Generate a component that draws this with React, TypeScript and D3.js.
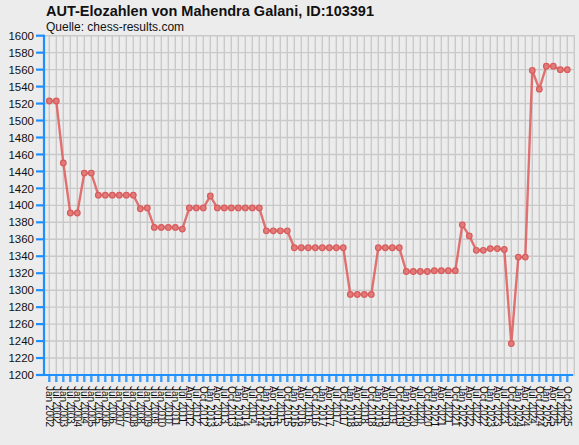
import React from "react";
import * as d3 from "d3";

const periods: string[] = [
  "Jan 2002", "Jul 2002", "Jan 2003", "Jul 2003", "Jan 2004", "Jul 2004", "Jan 2005", "Jul 2005",
  "Jan 2006", "Jul 2006", "Jan 2007", "Jul 2007", "Jan 2008", "Jul 2008", "Jan 2009", "Jul 2009",
  "Jan 2010", "Jul 2010", "Jan 2011", "Jul 2011",
  "Apr 2012", "Jul 2012", "Oct 2012",
  "Jan 2013", "Apr 2013", "Jul 2013", "Oct 2013",
  "Jan 2014", "Apr 2014", "Jul 2014", "Oct 2014",
  "Jan 2015", "Apr 2015", "Jul 2015", "Oct 2015",
  "Jan 2016", "Apr 2016", "Jul 2016", "Oct 2016",
  "Jan 2017", "Apr 2017", "Jul 2017", "Oct 2017",
  "Jan 2018", "Apr 2018", "Jul 2018", "Oct 2018",
  "Jan 2019", "Apr 2019", "Jul 2019", "Oct 2019",
  "Jan 2020", "Apr 2020", "Jul 2020", "Oct 2020",
  "Jan 2021", "Apr 2021", "Jul 2021", "Oct 2021",
  "Jan 2022", "Apr 2022", "Jul 2022", "Oct 2022",
  "Jan 2023", "Apr 2023", "Jul 2023", "Oct 2023",
  "Jan 2024", "Apr 2024", "Jul 2024", "Oct 2024",
  "Jan 2025", "Apr 2025", "Jul 2025", "Oct 2025",
];

const ratings: number[] = [
  1523, 1523, 1450, 1391, 1391, 1438, 1438, 1412, 1412, 1412,
  1412, 1412, 1412, 1396, 1397, 1374, 1374, 1374, 1374, 1372,
  1397, 1397, 1397, 1411, 1397, 1397, 1397, 1397, 1397, 1397,
  1397, 1370, 1370, 1370, 1370, 1350, 1350, 1350, 1350, 1350,
  1350, 1350, 1350, 1295, 1295, 1295, 1295, 1350, 1350, 1350,
  1350, 1322, 1322, 1322, 1322, 1323, 1323, 1323, 1323, 1377,
  1364, 1347, 1347, 1349, 1349, 1348, 1237, 1339, 1339, 1559,
  1537, 1564, 1564, 1560, 1560,
];

const yTicks: number[] = d3.range(1200, 1601, 20);

const title = "AUT-Elozahlen von Mahendra Galani, ID:103391";
const subtitle = "Quelle: chess-results.com";

export default function App() {
  const W = 579;
  const H = 445;
  const left = 44;
  const right = 575;
  const top = 35.7;
  const bottom = 375;
  const blue = "#1e8fff";

  const x = d3
    .scalePoint<string>()
    .domain(periods)
    .range([49.3, 49.3 + (periods.length - 1) * 7]);
  const step = x.step();
  const y = d3.scaleLinear().domain([1200, 1600]).range([bottom, top]);

  const line = d3
    .line<number>()
    .x((_, i) => x(periods[i]) as number)
    .y((d) => y(d));

  const vGrid = [...periods.map((p) => x(p) as number), (x(periods[periods.length - 1]) as number) + step];

  React.useEffect(() => {
    document.body.style.margin = "0";
  }, []);

  return (
    <svg
      width={W}
      height={H}
      style={{ position: "fixed", left: 0, top: 0, display: "block" }}
      fontFamily="'Liberation Sans', Arial, sans-serif"
    >
      <rect x={0} y={0} width={W} height={H} fill="#ececec" />
      <text x={46} y={16} fontSize={14.5} fontWeight="bold" fill="#111">
        {title}
      </text>
      <text x={46} y={31} fontSize={12} fill="#111">
        {subtitle}
      </text>
      {/* grid */}
      <g stroke="#c9c9c9" strokeWidth={1.4}>
        {yTicks.map((t) => (
          <line key={"h" + t} x1={left} x2={right} y1={y(t)} y2={y(t)} />
        ))}
        {vGrid.map((gx, i) => (
          <line key={"v" + i} x1={gx} x2={gx} y1={top} y2={bottom} />
        ))}
      </g>
      {/* y axis */}
      <g>
        <line x1={left} x2={left} y1={top - 1} y2={bottom + 1} stroke={blue} strokeWidth={2.2} />
        {yTicks.map((t) => (
          <g key={"yt" + t}>
            <line x1={36} x2={left} y1={y(t)} y2={y(t)} stroke={blue} strokeWidth={2.2} />
            <text x={34} y={y(t)} dy="0.36em" textAnchor="end" fontSize={11.5} fill="#111">
              {t}
            </text>
          </g>
        ))}
      </g>
      {/* x axis */}
      <g>
        <line x1={36} x2={573} y1={bottom} y2={bottom} stroke={blue} strokeWidth={2.2} />
        {periods.map((p) => (
          <g key={"xt" + p}>
            <line
              x1={x(p) as number}
              x2={x(p) as number}
              y1={bottom}
              y2={bottom + 7}
              stroke={blue}
              strokeWidth={2.4}
              strokeOpacity={0.85}
            />
            <text
              transform={`translate(${x(p) as number},${bottom + 11}) rotate(90)`}
              dy="0.35em"
              fontSize={10}
              fill="#111"
            >
              {p}
            </text>
          </g>
        ))}
      </g>
      {/* series */}
      <path d={line(ratings) || ""} fill="none" stroke="#de5c5c" strokeOpacity={0.85} strokeWidth={2.4} />
      {ratings.map((r, i) => (
        <circle
          key={"pt" + i}
          cx={x(periods[i]) as number}
          cy={y(r)}
          r={2.8}
          fill="#e27a7a"
          stroke="#d85c5c"
          strokeWidth={1.2}
        />
      ))}
    </svg>
  );
}
